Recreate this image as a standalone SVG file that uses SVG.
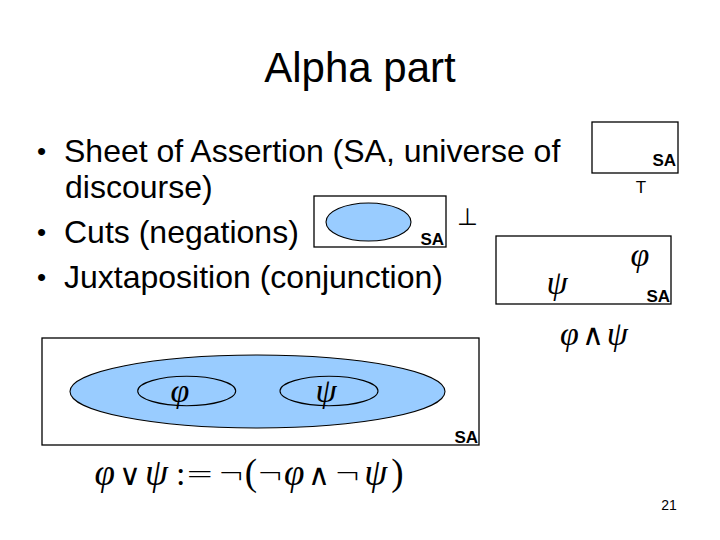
<svg xmlns="http://www.w3.org/2000/svg" width="720" height="540" viewBox="0 0 720 540">
<style>
.t{font-family:"Liberation Sans",Arial,sans-serif;fill:#000}
.b{font-size:32px}
.bl{font-size:26px}
.sa{font-family:"Liberation Sans",Arial,sans-serif;font-weight:bold;font-size:17px;text-anchor:end}
.m{font-family:"Liberation Serif","Times New Roman",serif;font-style:italic;fill:#000}
.op{font-family:"DejaVu Sans",sans-serif;font-style:normal;font-weight:200}
.box{fill:#fff;stroke:#000;stroke-width:1.3}
.cut{fill:#99ccff;stroke:#000;stroke-width:1.1}
</style>
<rect width="720" height="540" fill="#fff"/>
<text class="t" x="360" y="82" font-size="42" text-anchor="middle">Alpha part</text>
<g id="bullets">
<text class="t bl" x="37" y="160">•</text>
<text class="t b" x="64" y="162">Sheet of Assertion (SA, universe of</text>
<text class="t b" x="65" y="198">discourse)</text>
<text class="t bl" x="37" y="241">•</text>
<text class="t b" x="64" y="243">Cuts (negations)</text>
<text class="t bl" x="37" y="286">•</text>
<text class="t b" x="64" y="288">Juxtaposition (conjunction)</text>
</g>
<g id="sa-empty">
<rect class="box" x="592" y="122" width="86" height="51"/>
<text class="sa" x="676" y="166">SA</text>
<text class="t" x="641" y="193" font-size="17" text-anchor="middle">T</text>
</g>
<g id="cut-empty">
<rect class="box" x="314" y="196" width="132" height="51"/>
<ellipse class="cut" cx="368.5" cy="222" rx="42.5" ry="19"/>
<text class="sa" x="444" y="245">SA</text>
<text class="t" x="467" y="225" font-size="24" text-anchor="middle">⊥</text>
</g>
<g id="juxtaposition">
<rect class="box" x="496" y="236" width="175" height="68"/>
<text class="m" x="640" y="266" font-size="34" text-anchor="middle">φ</text>
<text class="m" x="557" y="294" font-size="34" text-anchor="middle">ψ</text>
<text class="sa" x="670" y="302">SA</text>
<text class="m" x="594" y="345" font-size="34" text-anchor="middle">φ<tspan class="op" font-size="30" dx="3">∧</tspan><tspan dx="3">ψ</tspan></text>
</g>
<g id="disjunction">
<rect class="box" x="42" y="338" width="437" height="107"/>
<ellipse class="cut" cx="257.5" cy="391.5" rx="187.5" ry="36.5"/>
<ellipse class="cut" cx="186.7" cy="391" rx="49" ry="14.7"/>
<ellipse class="cut" cx="329" cy="391" rx="49" ry="14.7"/>
<text class="m" x="180" y="402" font-size="34" text-anchor="middle">φ</text>
<text class="m" x="326" y="402" font-size="34" text-anchor="middle">ψ</text>
<text class="sa" x="478" y="443">SA</text>
<text class="m" x="249" y="485" font-size="37" text-anchor="middle">φ<tspan class="op" font-size="30" dx="4">∨</tspan><tspan dx="4">ψ</tspan><tspan font-style="normal" font-size="34" dx="8">:</tspan><tspan class="op" font-size="34">=</tspan><tspan class="op" font-size="32" dx="4">¬</tspan><tspan font-style="normal">(</tspan><tspan class="op" font-size="32">¬</tspan>φ<tspan class="op" font-size="30" dx="4">∧</tspan><tspan class="op" font-size="32" dx="4">¬</tspan><tspan dx="3">ψ</tspan><tspan font-style="normal" dx="4">)</tspan></text>
</g>
<text class="t" x="669" y="510" font-size="14" text-anchor="middle">21</text>
</svg>
